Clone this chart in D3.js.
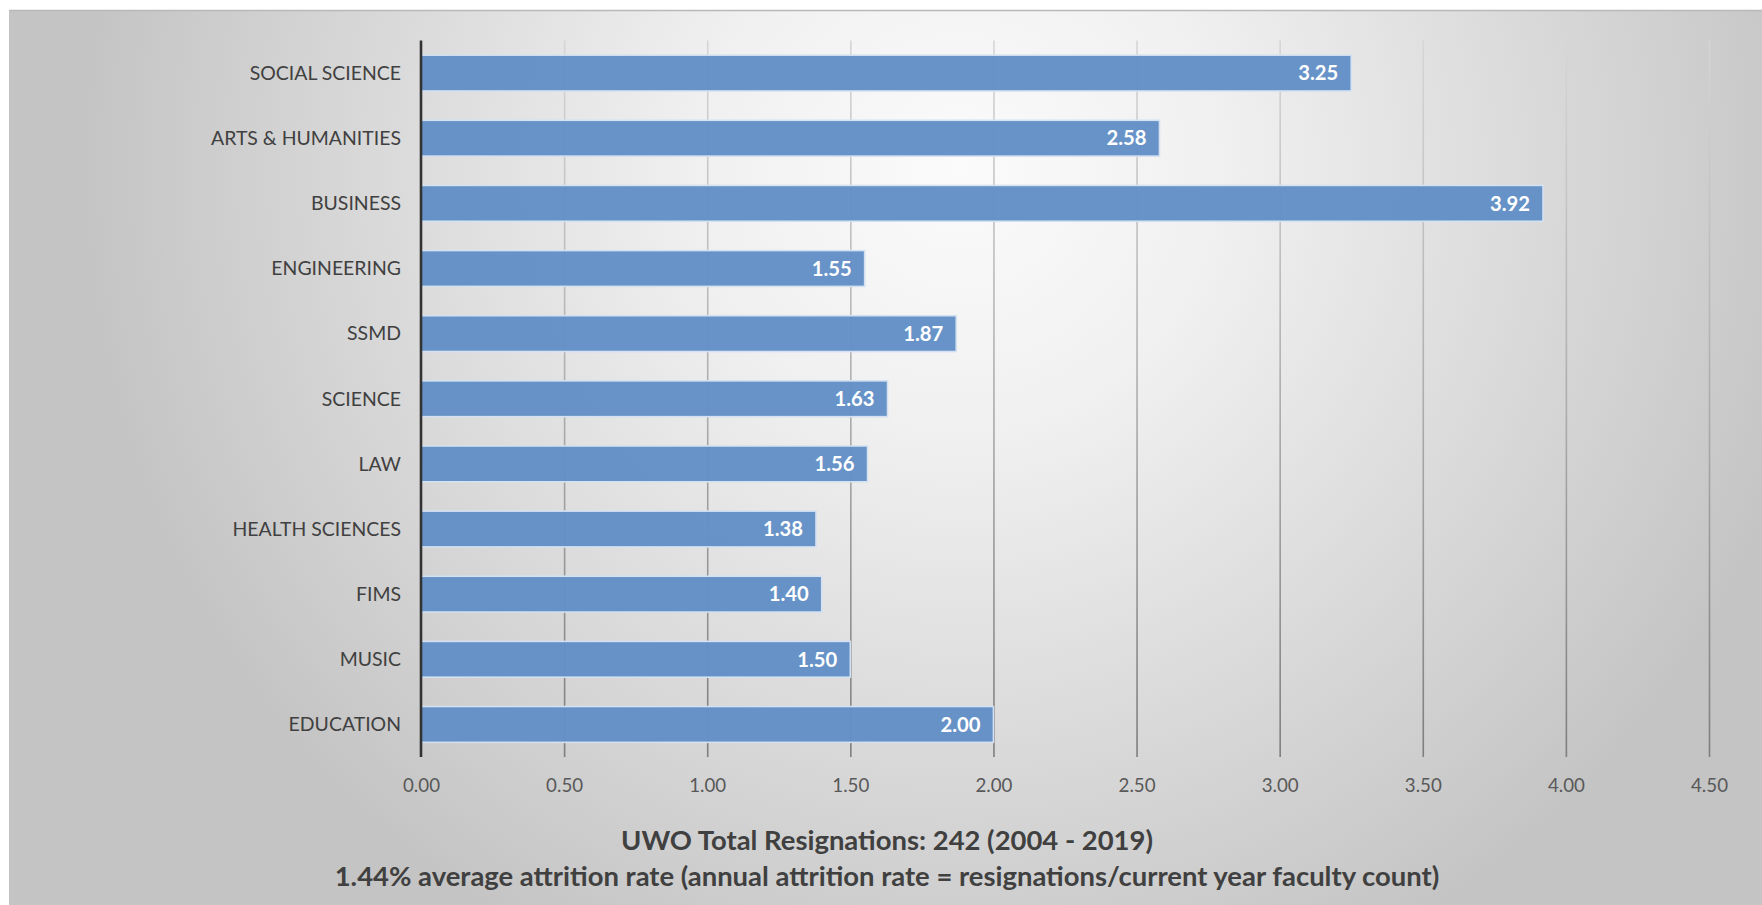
<!DOCTYPE html>
<html>
<head>
<meta charset="utf-8">
<script src="https://cdn.jsdelivr.net/npm/d3@7"></script>
<style>
  html, body { margin: 0; padding: 0; background: #ffffff; }
  svg { display: block; }
</style>
</head>
<body>
<svg id="chart" width="1762" height="905"></svg>
<script>
// ---- data ----
const categories = ["SOCIAL SCIENCE", "ARTS & HUMANITIES", "BUSINESS", "ENGINEERING", "SSMD", "SCIENCE", "LAW", "HEALTH SCIENCES", "FIMS", "MUSIC", "EDUCATION"];
const values = [3.25, 2.58, 3.92, 1.55, 1.87, 1.63, 1.56, 1.38, 1.40, 1.50, 2.00];
const tickValues = [0, 0.5, 1, 1.5, 2, 2.5, 3, 3.5, 4, 4.5];
const titleLines = ["UWO Total Resignations: 242 (2004 - 2019)", "1.44% average attrition rate (annual attrition rate = resignations/current year faculty count)"];

const FONT = "Lato, 'Open Sans', 'DejaVu Sans', sans-serif";
const W = 1762, H = 905;
const svg = d3.select("#chart");

const plotTop = 40.5, plotBottom = 757, plotLeft = 421, plotRight = 1709;

// ---- defs ----
const defs = svg.append("defs");
const bg = defs.append("radialGradient").attr("id", "bg")
  .attr("gradientUnits", "userSpaceOnUse")
  .attr("cx", 960).attr("cy", 170).attr("r", 880);
[[0, "#fbfbfb"], [0.3, "#f0f0f0"], [0.65, "#dadada"], [1, "#c4c4c4"]].forEach(([o, c]) =>
  bg.append("stop").attr("offset", o).attr("stop-color", c));

// gradient in the tick's local space (ticks are translated to the bottom of the plot)
const gg = defs.append("linearGradient").attr("id", "grid")
  .attr("gradientUnits", "userSpaceOnUse")
  .attr("x1", 0).attr("y1", -(plotBottom - plotTop)).attr("x2", 0).attr("y2", 0);
gg.append("stop").attr("offset", 0).attr("stop-color", "#d6d6d6");
gg.append("stop").attr("offset", 0.5).attr("stop-color", "#adadad");
gg.append("stop").attr("offset", 1).attr("stop-color", "#7e7e7e");

// ---- background panel ----
svg.append("rect").attr("x", 9).attr("y", 10).attr("width", W - 9).attr("height", H - 10)
  .attr("fill", "url(#bg)");
svg.append("line").attr("x1", 9).attr("x2", W).attr("y1", 10.5).attr("y2", 10.5)
  .attr("stroke", "#b9b9b9").attr("stroke-width", 1.5);

// ---- scales ----
const x = d3.scaleLinear().domain([0, 4.5]).range([plotLeft, plotRight]);
const y = d3.scaleBand().domain(categories).range([plotTop, plotBottom]).paddingInner(0.45).paddingOuter(0.225);

// font fitting helper
function fitSize(text, weight, target) {
  const t = svg.append("text").attr("font-family", FONT).attr("font-weight", weight)
    .attr("font-size", 100).text(text);
  const w = t.node().getComputedTextLength();
  t.remove();
  return 100 * target / w;
}
const catSize = fitSize("ARTS & HUMANITIES", 400, 190);
const tickSize = fitSize("0.00", 400, 37);
const valSize = fitSize("3.25", 700, 40);
const titleSize = fitSize(titleLines[1], 700, 1105);

// ---- gridlines ----
const gridAxis = d3.axisBottom(x).tickValues(tickValues.slice(1)).tickSize(-(plotBottom - plotTop)).tickFormat("");
const gGrid = svg.append("g").attr("transform", `translate(0,${plotBottom})`).call(gridAxis);
gGrid.select(".domain").remove();
gGrid.selectAll(".tick line").attr("stroke", "url(#grid)").attr("stroke-width", 1.6);

// ---- bars ----
svg.append("g").selectAll("rect").data(categories).join("rect")
  .attr("x", x(0))
  .attr("y", d => y(d))
  .attr("width", (d, i) => x(values[i]) - x(0))
  .attr("height", y.bandwidth())
  .attr("fill", "#6290c6")
  .attr("fill-opacity", 0.97)
  .attr("stroke", "#d4e1f1")
  .attr("stroke-width", 1.6);

// ---- value labels ----
svg.append("g").selectAll("text").data(categories).join("text")
  .attr("x", (d, i) => x(values[i]) - 13)
  .attr("y", d => y(d) + y.bandwidth() / 2)
  .attr("dy", "0.36em")
  .attr("text-anchor", "end")
  .attr("font-family", FONT).attr("font-weight", 700).attr("font-size", valSize)
  .attr("fill", "#ffffff")
  .text((d, i) => values[i].toFixed(2));

// ---- y axis (category labels) ----
const yAxis = d3.axisLeft(y).tickSize(0).tickPadding(20);
const gY = svg.append("g").attr("transform", `translate(${plotLeft},0)`).call(yAxis);
gY.select(".domain").remove();
gY.selectAll("text").attr("font-family", FONT).attr("font-size", catSize).attr("fill", "#404040").attr("dy", "0.35em");

// axis line at zero
svg.append("line").attr("x1", x(0)).attr("x2", x(0)).attr("y1", plotTop).attr("y2", plotBottom)
  .attr("stroke", "#333333").attr("stroke-width", 2.6);

// ---- x axis tick labels ----
const xAxis = d3.axisBottom(x).tickValues(tickValues).tickSize(0).tickPadding(22).tickFormat(d3.format(".2f"));
const gX = svg.append("g").attr("transform", `translate(0,${plotBottom})`).call(xAxis);
gX.select(".domain").remove();
gX.selectAll("text").attr("font-family", FONT).attr("font-size", tickSize).attr("fill", "#595959");

// ---- title lines ----
const cx = 887;
svg.append("g").selectAll("text").data(titleLines).join("text")
  .attr("x", cx)
  .attr("y", (d, i) => 840 + i * 36.5)
  .attr("dy", "0.35em")
  .attr("text-anchor", "middle")
  .attr("font-family", FONT).attr("font-weight", 700).attr("font-size", titleSize)
  .attr("fill", "#404040")
  .text(d => d);
</script>
</body>
</html>
